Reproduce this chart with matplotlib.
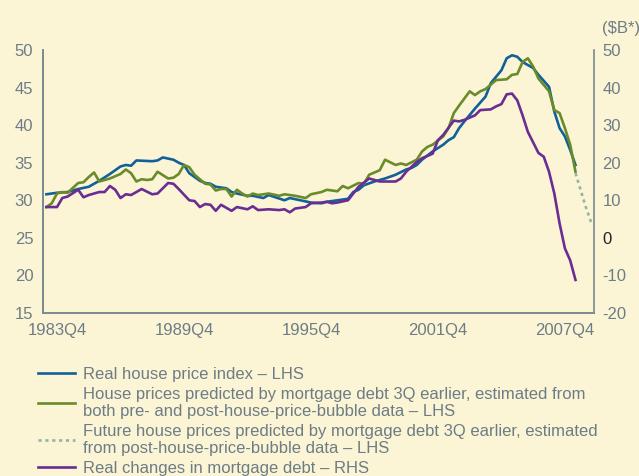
import matplotlib
matplotlib.use("Agg")
import matplotlib.pyplot as plt
from matplotlib.ticker import FixedLocator

plt.rcParams['font.family'] = ['Liberation Sans', 'DejaVu Sans']
plt.rcParams['axes.unicode_minus'] = False

# quarters counted from 1983Q4 (= 0)
tick_q = [0, 24, 48, 72, 96]
tick_labels = ['1983Q4', '1989Q4', '1995Q4', '2001Q4', '2007Q4']

# real house price index (LHS)
price_q = [-2, 0, 2, 4, 6, 8, 10, 12, 13, 14, 15, 18, 19, 20, 22, 23, 24, 25, 27, 28,
           29, 30, 32, 33, 34, 36, 37, 39, 40, 43, 44, 46, 48, 50, 51, 53, 55, 56, 57, 58,
           60, 62, 64, 66, 67, 68, 69, 71, 73, 74, 75, 76, 77, 79, 81, 82, 84, 85, 86, 87,
           88, 90, 91, 93, 94, 95, 96, 97, 98]
price = [30.8, 31.0, 31.1, 31.5, 31.8, 32.6, 33.5, 34.5, 34.7, 34.6, 35.3, 35.2, 35.3, 35.7, 35.4, 35.0, 34.7, 33.6, 32.6, 32.3,
         32.2, 31.8, 31.6, 31.1, 30.9, 30.6, 30.6, 30.3, 30.7, 30.0, 30.3, 30.0, 29.7, 29.6, 29.8, 30.0, 30.2, 31.1, 31.4, 32.0,
         32.5, 32.9, 33.4, 34.1, 34.3, 34.7, 35.4, 36.5, 37.4, 38.0, 38.4, 39.6, 40.5, 42.2, 43.8, 45.6, 47.3, 48.9, 49.3, 49.1,
         48.4, 47.6, 46.7, 45.1, 41.8, 39.6, 38.5, 36.7, 34.7]

# house prices predicted by mortgage debt, full sample (LHS)
pred_q = [-2, -1, 0, 1, 2, 4, 5, 6, 7, 8, 10, 12, 13, 14, 15, 16, 17, 18, 19, 21,
          22, 23, 24, 25, 26, 28, 29, 30, 31, 32, 33, 34, 35, 36, 37, 38, 40, 42, 43, 45,
          47, 48, 50, 51, 53, 54, 55, 57, 58, 59, 61, 62, 64, 65, 66, 68, 69, 70, 71, 73,
          74, 75, 76, 78, 79, 80, 81, 83, 85, 86, 87, 88, 89, 90, 91, 93, 94, 95, 96, 97, 98]
pred = [29.1, 29.6, 30.9, 31.1, 31.0, 32.3, 32.4, 33.1, 33.7, 32.5, 32.9, 33.5, 34.1, 33.6, 32.5, 32.8, 32.7, 32.8, 33.8, 32.9,
        33.0, 33.5, 34.7, 34.4, 33.4, 32.2, 32.1, 31.3, 31.5, 31.5, 30.5, 31.4, 30.9, 30.5, 30.9, 30.7, 30.9, 30.6, 30.8, 30.6,
        30.3, 30.8, 31.1, 31.4, 31.2, 31.9, 31.6, 32.3, 32.2, 33.4, 34.0, 35.4, 34.7, 34.9, 34.7, 35.4, 36.5, 37.1, 37.4, 38.5,
        39.6, 41.6, 42.6, 44.5, 44.0, 44.5, 44.8, 46.0, 46.1, 46.7, 46.8, 48.4, 48.9, 47.8, 46.2, 44.5, 42.0, 41.6, 39.6, 37.4, 33.8]

# future prices predicted from post-bubble data (LHS)
future_q = [98, 99, 100, 101]
future = [33.6, 31.3, 29.0, 27.0]

# real changes in mortgage debt, $B (RHS)
debt_q = [-2, 0, 1, 2, 4, 5, 6, 8, 9, 10, 11, 12, 13, 14, 16, 18, 19, 21, 22, 23,
          25, 26, 27, 28, 29, 30, 31, 33, 34, 36, 37, 38, 40, 42, 43, 44, 45, 47, 48, 50,
          51, 52, 53, 55, 56, 57, 59, 60, 61, 64, 65, 66, 68, 69, 71, 72, 73, 75, 76, 77,
          79, 80, 82, 83, 84, 85, 86, 87, 88, 89, 91, 92, 93, 94, 95, 96, 97, 98]
debt = [8.2, 8.2, 10.6, 11.0, 12.8, 10.8, 11.4, 12.2, 12.2, 13.8, 12.8, 10.6, 11.6, 11.4, 13.0, 11.6, 11.8, 14.6, 14.4, 13.0,
        10.0, 9.8, 8.2, 9.0, 8.8, 7.2, 8.8, 7.2, 8.2, 7.6, 8.4, 7.4, 7.6, 7.4, 7.6, 6.8, 7.8, 8.2, 9.2, 9.4,
        9.6, 9.2, 9.4, 10.0, 11.8, 13.6, 15.8, 15.4, 15.0, 15.0, 15.8, 17.6, 20.2, 21.2, 22.4, 26.0, 27.4, 31.2, 31.0, 31.4,
        32.6, 34.0, 34.2, 35.0, 35.6, 38.2, 38.4, 36.6, 32.6, 28.2, 22.6, 21.6, 17.6, 11.8, 3.8, -2.8, -6.0, -11.2]

labels = ['Real house price index \u2013 LHS',
          'House prices predicted by mortgage debt 3Q earlier, estimated from\nboth pre- and post-house-price-bubble data \u2013 LHS',
          'Future house prices predicted by mortgage debt 3Q earlier, estimated\nfrom post-house-price-bubble data \u2013 LHS',
          'Real changes in mortgage debt \u2013 RHS']

bg = '#fbf5d6'
c_blue = '#12609a'
c_green = '#6a8b2a'
c_dot = '#92b5a2'
c_purple = '#6a2d92'
c_axis = '#7a8990'
c_text = '#6d7c85'

fig = plt.figure(figsize=(6.39, 4.76), dpi=100)
fig.patch.set_facecolor(bg)
ax = fig.add_axes([43 / 639, 1 - 313 / 476, 551 / 639, 263 / 476])
ax.set_facecolor(bg)
ax2 = ax.twinx()

l1, = ax.plot(price_q, price, color=c_blue, lw=1.9, solid_joinstyle='round')
l2, = ax.plot(pred_q, pred, color=c_green, lw=1.9, solid_joinstyle='round')
l3, = ax.plot(future_q, future, color=c_dot, lw=1.9, linestyle=(0, (1.2, 1.4)))
l4, = ax2.plot(debt_q, debt, color=c_purple, lw=1.9, solid_joinstyle='round')

ax.set_xlim(-2.65, 101.5)
ax.set_ylim(15, 50)
ax2.set_ylim(-20, 50)

ax.xaxis.set_major_locator(FixedLocator(tick_q))
ax.set_xticklabels(tick_labels)
ax.set_yticks(range(15, 51, 5))
ax2.set_yticks(range(-20, 51, 10))

for a in (ax, ax2):
    for s in a.spines.values():
        s.set_color(c_axis)
        s.set_linewidth(1.2)
    a.spines['top'].set_visible(False)
    a.tick_params(length=0, labelsize=12, labelcolor=c_text)
ax.spines['right'].set_visible(False)
ax.tick_params(axis='y', pad=7)
ax.tick_params(axis='x', pad=7)
ax2.tick_params(axis='y', pad=6)
for t in ax2.get_yticklabels():
    if t.get_text() == '0':
        t.set_color('#222222')

fig.text(602 / 639, 1 - 28 / 476, '($B*)', fontsize=12, color=c_text, va='center', ha='left')

leg = fig.legend([l1, l2, l3, l4], labels, loc='upper left', bbox_to_anchor=(38 / 639, 1 - 367 / 476),
                 frameon=False, fontsize=12, handlelength=2.2, handletextpad=0.5,
                 labelspacing=0.3, borderpad=0, borderaxespad=0, labelcolor=c_text)
for t in leg.get_texts():
    t.set_linespacing(1.15)

fig.savefig('out.png', dpi=100, facecolor=bg)
